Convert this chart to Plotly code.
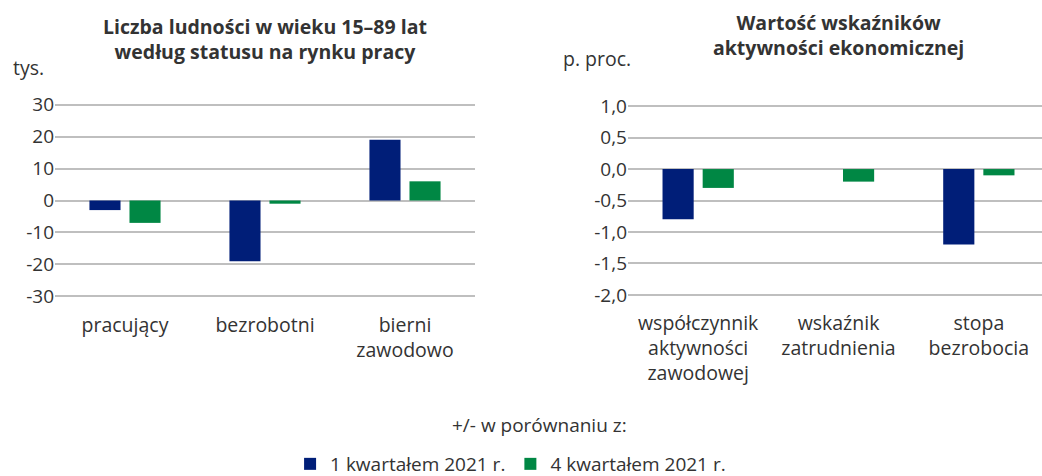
import plotly.graph_objects as go

# ---- data ----
cats_left = ["pracujący", "bezrobotni", "bierni<br>zawodowo"]
left_q1 = [-3, -19, 19]
left_q4 = [-7, -1, 6]

cats_right = ["współczynnik<br>aktywności<br>zawodowej", "wskaźnik<br>zatrudnienia", "stopa<br>bezrobocia"]
right_q1 = [-0.8, 0.0, -1.2]
right_q4 = [-0.3, -0.2, -0.1]

series_names = ["1 kwartałem 2021 r.", "4 kwartałem 2021 r."]

left_ticks = [30, 20, 10, 0, -10, -20, -30]
left_ticktext = ["30", "20", "10", "0", "-10", "-20", "-30"]
right_ticks = [1.0, 0.5, 0.0, -0.5, -1.0, -1.5, -2.0]
right_ticktext = ["1,0", "0,5", "0,0", "-0,5", "-1,0", "-1,5", "-2,0"]

BLUE = "#001E78"
GREEN = "#008744"
TXT = "#333333"
GRID = "#BFBFBF"
FONT = "Open Sans"

W, H = 1042, 476

fig = go.Figure()
bw = 0.222
gap = 0.032
fig.add_trace(go.Bar(x=list(range(3)), y=left_q1, name=series_names[0], marker=dict(color=BLUE, line=dict(width=0)),
                     width=bw, offset=-(bw + gap), xaxis="x", yaxis="y", legendgroup="a"))
fig.add_trace(go.Bar(x=list(range(3)), y=left_q4, name=series_names[1], marker=dict(color=GREEN, line=dict(width=0)),
                     width=bw, offset=gap, xaxis="x", yaxis="y", legendgroup="b"))
fig.add_trace(go.Bar(x=list(range(3)), y=right_q1, name=series_names[0], marker=dict(color=BLUE, line=dict(width=0)),
                     width=bw, offset=-(bw + gap), xaxis="x2", yaxis="y2", legendgroup="a", showlegend=False))
fig.add_trace(go.Bar(x=list(range(3)), y=right_q4, name=series_names[1], marker=dict(color=GREEN, line=dict(width=0)),
                     width=bw, offset=gap, xaxis="x2", yaxis="y2", legendgroup="b", showlegend=False))

def px_x(p):
    return p / W

def px_y(p):
    return 1 - p / H

ydom = [px_y(298), px_y(103)]

fig.update_layout(
    width=W, height=H,
    margin=dict(l=0, r=0, t=0, b=0, autoexpand=False),
    paper_bgcolor="white", plot_bgcolor="white",
    font=dict(family=FONT, color=TXT, size=19),
    barmode="overlay",
    showlegend=True,
    legend=dict(orientation="h", x=0.49, xanchor="center", y=px_y(464), yanchor="middle",
                font=dict(size=19, color=TXT), itemwidth=30, traceorder="normal"),
    xaxis=dict(domain=[px_x(55), px_x(475)], range=[-0.5, 2.5], tickmode="array",
               tickvals=list(range(3)), ticktext=cats_left, showgrid=False, zeroline=False,
               showline=False, ticks="", tickfont=dict(size=19.5, color=TXT), automargin=False,
               ticklabelstandoff=13),
    yaxis=dict(domain=ydom, range=[-30.5, 30.5], tickmode="array", tickvals=left_ticks,
               ticktext=left_ticktext, showgrid=True, gridcolor=GRID, gridwidth=1.5,
               zeroline=False, showline=False, ticks="", tickfont=dict(size=19, color=TXT),
               anchor="x", automargin=False),
    xaxis2=dict(domain=[px_x(628), 1.0], range=[-0.5, 2.45], tickmode="array",
                tickvals=list(range(3)), ticktext=cats_right, showgrid=False, zeroline=False,
                showline=False, ticks="", tickfont=dict(size=19.5, color=TXT), anchor="y2",
                automargin=False, ticklabelstandoff=11),
    yaxis2=dict(domain=ydom, range=[-2.05, 1.05], tickmode="array", tickvals=right_ticks,
                ticktext=right_ticktext, showgrid=True, gridcolor=GRID, gridwidth=1.5,
                zeroline=False, showline=False, ticks="", tickfont=dict(size=19, color=TXT),
                anchor="x2", automargin=False),
)

ann = [
    dict(text="<b>Liczba ludności w wieku 15–89 lat<br>według statusu na rynku pracy</b>",
         x=px_x(265), y=px_y(39), xanchor="center", yanchor="middle", font=dict(size=19.5)),
    dict(text="<b>Wartość wskaźników<br>aktywności ekonomicznej</b>",
         x=px_x(838), y=px_y(35), xanchor="center", yanchor="middle", font=dict(size=19.5)),
    dict(text="tys.", x=px_x(11), y=px_y(68), xanchor="left", yanchor="middle", font=dict(size=19.5)),
    dict(text="p. proc.", x=px_x(561), y=px_y(58), xanchor="left", yanchor="middle", font=dict(size=19.5)),
    dict(text="+/- w porównaniu z:", x=px_x(539), y=px_y(425), xanchor="center", yanchor="middle", font=dict(size=19)),
]
for a in ann:
    a.update(xref="paper", yref="paper", showarrow=False)
fig.update_layout(annotations=ann)

fig.write_html("out.html", config={"displayModeBar": False},
               post_script="document.body.style.margin='0';document.body.style.overflow='hidden';")
